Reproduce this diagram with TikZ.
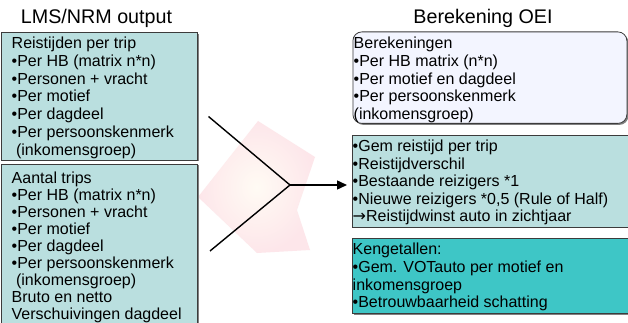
\documentclass[tikz,border=0pt]{standalone}
\usepackage{fontspec}
\setmainfont{Liberation Sans}
\newfontfamily\arrowfont{DejaVu Sans}
\usetikzlibrary{arrows.meta,shadows}
\definecolor{boxfill}{RGB}{186,223,223}
\definecolor{kengfill}{RGB}{62,198,198}
\definecolor{berfill}{RGB}{243,245,255}
\definecolor{edgecol}{RGB}{60,60,60}
\definecolor{wmpink}{RGB}{253,230,234}
\definecolor{wmcenter}{RGB}{255,251,244}
\newcommand\textlines[1]{\vtop{\hsize=300pt\parindent=0pt\raggedright #1\par}}
\begin{document}
\begin{tikzpicture}[x=1pt,y=-1pt,
  box/.style={draw=edgecol, line width=0.8pt, anchor=north west, inner sep=0pt,
    drop shadow={shadow xshift=1.5pt, shadow yshift=-1.5pt, fill=black!50, opacity=1}},
  body/.style={anchor=base west, inner sep=0pt, font=\fontsize{16}{17.8}\selectfont},
  bodytight/.style={anchor=base west, inner sep=0pt, font=\fontsize{16}{17}\selectfont},
  bodymid/.style={anchor=base west, inner sep=0pt, font=\fontsize{16}{17.4}\selectfont},
  title/.style={anchor=base, inner sep=0pt, font=\fontsize{19.7}{22}\selectfont},
  link/.style={line width=1.4pt, draw=black}]
\useasboundingbox (0,0) rectangle (628,323);
\fill[white] (0,0) rectangle (628,323);
% faint watermark
\shade[inner color=wmcenter, outer color=wmpink] (258,121) -- (315,157) -- (297,210) -- (310,250) -- (257,253) -- (198,197) -- cycle;
% titles
\node[title] (h1) at (96.5,24) {LMS/NRM output};
\node[title] (h2) at (483,24) {Berekening OEI};
% boxes
\node[box, fill=boxfill, minimum width=196pt, minimum height=127.5pt] (b1) at (1,32) {};
\node[box, fill=boxfill, minimum width=196pt, minimum height=162pt] (b2) at (1,163.5) {};
\node[box, fill=berfill, rounded corners=9pt, minimum width=274pt, minimum height=91.5pt] (b3) at (352.5,31.5) {};
\node[box, fill=boxfill, minimum width=276pt, minimum height=91.5pt] (b4) at (352,135) {};
\node[box, fill=kengfill, minimum width=275.5pt, minimum height=74.5pt] (b5) at (352,238.3) {};
% texts
\node[body] (t1) at (11.5,48.5) {\textlines{Reistijden per trip\\
•Per HB (matrix n*n)\\
•Personen + vracht\\
•Per motief\\
•Per dagdeel\\
•Per persoonskenmerk\\
\hspace*{4.4pt}(inkomensgroep)}};
\node[bodytight] (t2) at (11.5,183.5) {\textlines{Aantal trips\\
•Per HB (matrix n*n)\\
•Personen + vracht\\
•Per motief\\
•Per dagdeel\\
•Per persoonskenmerk\\
\hspace*{4.4pt}(inkomensgroep)\\
Bruto en netto\\
Verschuivingen dagdeel}};
\node[body] (t3) at (353.5,48.5) {\textlines{Berekeningen\\
•Per HB matrix (n*n)\\
•Per motief en dagdeel\\
•Per persoonskenmerk\\
(inkomensgroep)}};
\node[bodymid] (t4) at (352.5,152) {\textlines{•Gem reistijd per trip\\
•Reistijdverschil\\
•Bestaande reizigers *1\\
•Nieuwe reizigers *0,5 (Rule of Half)\\
{\arrowfont →}Reistijdwinst auto in zichtjaar}};
\node[body] (t5) at (352.5,254.5) {\textlines{Kengetallen:\\
•Gem. VOTauto per motief en\\
inkomensgroep\\
•Betrouwbaarheid schatting}};
% connectors
\coordinate (j) at (290,185);
\coordinate (u) at (208.5,116.5);
\coordinate (l) at (210,251);
\draw[link] (u) -- (j) -- (l);
\draw[link, -{Triangle[length=10pt,width=9pt]}] (j) -- ([xshift=-5pt]j -| b4.west);
\end{tikzpicture}
\end{document}
